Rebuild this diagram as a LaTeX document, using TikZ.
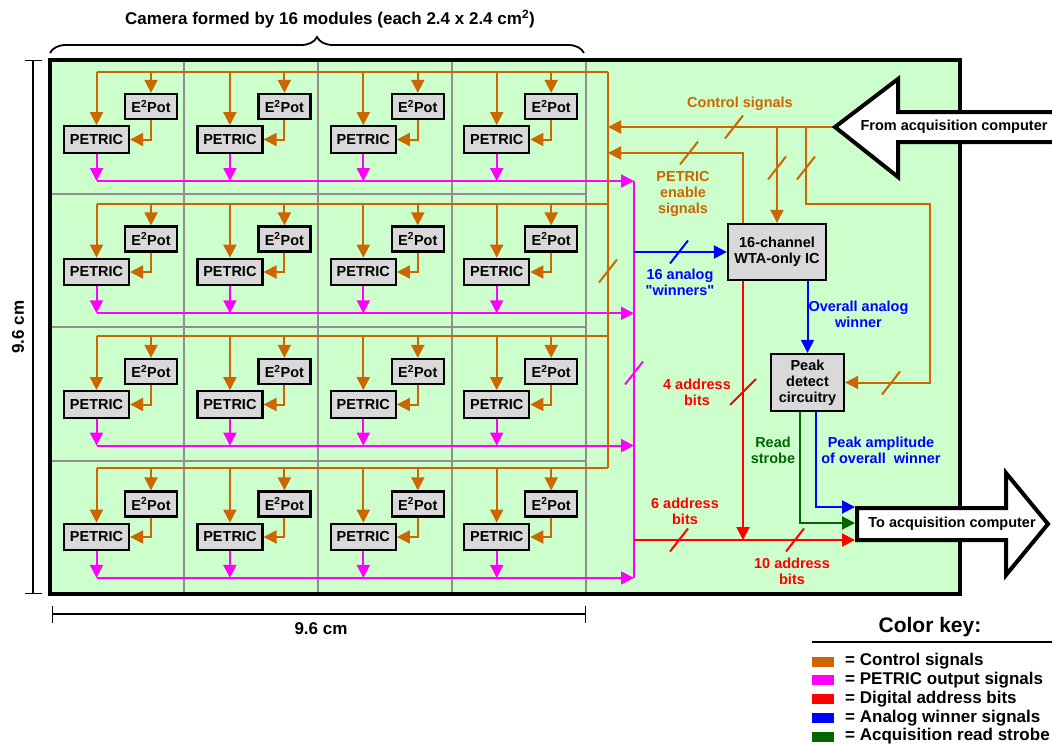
\documentclass[tikz,border=0pt]{standalone}
\usepackage{fontspec}
\setmainfont{Liberation Sans}
\usepackage{xcolor}
\usetikzlibrary{positioning,arrows.meta,calc,decorations.pathreplacing}
\definecolor{ctlc}{HTML}{CC6600}
\definecolor{outc}{HTML}{FF00FF}
\definecolor{adrc}{HTML}{FF0000}
\definecolor{anac}{HTML}{0000FF}
\definecolor{strc}{HTML}{006600}
\definecolor{camc}{HTML}{CCFFCC}
\definecolor{boxc}{HTML}{D9D9D9}
\definecolor{gridc}{HTML}{8F8F8F}

\begin{document}
\begin{tikzpicture}[x=1pt,y=-1pt,
    font=\fontsize{14.5}{16}\selectfont\bfseries,
    >={Triangle[length=13pt,width=13pt]},
    wire/.style={line width=2pt},
    ctl/.style={wire,ctlc},
    outp/.style={wire,outc},
    adr/.style={wire,adrc},
    ana/.style={wire,anac},
    strb/.style={wire,strc},
    blk/.style={draw,line width=2.2pt,fill=boxc,inner sep=0pt,align=center},
    lbl/.style={align=center},
    biglbl/.style={font=\fontsize{17}{19}\selectfont\bfseries},
    bigarrow/.style={draw,line width=4pt,fill=white,miter limit=10},
    dimline/.style={line width=1.3pt,{Bar[width=17pt]}-{Bar[width=17pt]}},
    wslash/.pic={\draw[line width=2pt] (-9,11.5) -- (9,-11.5);},
    wslashl/.pic={\draw[line width=2pt] (-13,13) -- (13,-13);}]
    \useasboundingbox (0,0) rectangle (1052,744);

    % camera board
    \coordinate (camNW) at (50,60);
    \coordinate (camSE) at (960,594);
    \fill[camc] (camNW) rectangle (camSE);
    \foreach \gx in {184,318,452,586}
        \draw[gridc,line width=2pt] (\gx,60) -- (\gx,594);
    \foreach \gy in {193.5,327,460.5}
        \draw[gridc,line width=2pt] (50,\gy) -- (586,\gy);

    \coordinate (trunk) at (608,72);
    \coordinate (trunkend) at (608,468);
    \coordinate (outv) at (634,181);
    \coordinate (outvend) at (634,578);

    % 16 modules
    \foreach \row in {0,...,3}{
        \coordinate (cbus\row) at (96.5,{72+132*\row});
        \coordinate (obus\row) at (96.5,{181+132.3*\row});
        \foreach \col in {0,...,3}{
            \node[blk,minimum width=65,minimum height=26.5] (pe\row\col)
                at ({96.5+133.4*\col},{139.5+132.5*\row}) {PETRIC};
            \node[blk,minimum width=52,minimum height=25] (ep\row\col)
                at ({151+133.4*\col},{106.5+132.5*\row}) {E\textsuperscript{2}Pot};
            \draw[ctl,->] (pe\row\col.north |- cbus\row) -- (pe\row\col.north);
            \draw[ctl,->] (ep\row\col.north |- cbus\row) -- (ep\row\col.north);
            \draw[ctl,->] (ep\row\col.south) |- (pe\row\col.east);
            \draw[outp,->] (pe\row\col.south) -- (pe\row\col.south |- obus\row);
        }
        \draw[ctl] (cbus\row) -- (cbus\row -| trunk);
        \draw[outp,->] (obus\row) -- (obus\row -| outv);
    }
    \draw[ctl] (trunk) -- (trunkend);
    \draw[outp] (outv) -- (outvend);

    % processing chain
    \node[blk,minimum width=98,minimum height=56] (wta) at (777,252) {16-channel\\WTA-only IC};
    \node[blk,minimum width=73,minimum height=57] (peak) at (807.5,382.5) {Peak\\detect\\circuitry};

    \coordinate (fromtip) at (835,127);
    \coordinate (brB) at (806,127);
    \coordinate (pkfeed) at (930,204);
    \coordinate (enab) at (743,153);
    \coordinate (adrbus) at (634,540);
    \coordinate (adrin) at (855,540);
    \coordinate (strbin) at (855,523);
    \coordinate (ampin) at (855,507);

    \draw[ctl,->] (fromtip) -- (fromtip -| trunk);
    \draw[ctl,->] (wta.north |- fromtip) -- (wta.north);
    \draw[ctl,->] (brB) |- (pkfeed) |- (peak.east);
    \draw[ctl,->] (wta.north -| enab) -- (enab) -- (enab -| trunk);
    \draw[ana,->] (outv |- wta.west) -- (wta.west);
    \draw[ana,->] (peak.north |- wta.south) -- (peak.north);
    \draw[adr,->] (wta.south -| enab) -- (enab |- adrbus);
    \draw[adr,->] (adrbus) -- (adrin);
    \draw[strb,->] ($(peak.south)+(-7.5,0)$) |- (strbin);
    \draw[ana,->] ($(peak.south)+(8.5,0)$) |- (ampin);

    \pic[color=ctlc] at (734,127) {wslash};
    \pic[color=ctlc] at (689,153) {wslash};
    \pic[color=ctlc] at (777,168) {wslash};
    \pic[color=ctlc] at (806,168) {wslash};
    \pic[color=ctlc] at (891,383) {wslash};
    \pic[color=ctlc] at (608,271) {wslash};
    \pic[color=outc] at (634,373) {wslash};
    \pic[color=anac] at (679,252) {wslash};
    \pic[color=adrc] at (743,392) {wslashl};
    \pic[color=adrc] at (679,540) {wslash};
    \pic[color=adrc] at (795,540) {wslash};

    \node[lbl,ctlc] (ctllbl) at (740,104) {Control signals};
    \node[lbl,ctlc] (enablbl) at (683,194) {PETRIC\\enable\\signals};
    \node[lbl,anac] (winlbl) at (680,282) {16 analog\\\textquotedbl winners\textquotedbl};
    \node[lbl,anac] (ovlbl) at (858.5,314) {Overall analog\\winner};
    \node[lbl,adrc] (a4lbl) at (697,392) {4 address\\bits};
    \node[lbl,strc] (rdlbl) at (773,450) {Read\\strobe};
    \node[lbl,anac] (amplbl) at (881,450) {Peak amplitude\\of overall\ \ winner};
    \node[lbl,adrc] (a6lbl) at (685,511) {6 address\\bits};
    \node[lbl,adrc] (a10lbl) at (792,571) {10 address\\bits};

    \draw[line width=4.8pt] (camNW) rectangle (camSE);

    % acquisition computer
    \draw[bigarrow] (fromtip) -- (898,79) -- (898,112) -- (1062,112) -- (1062,142)
        -- (898,142) -- (898,177) -- cycle;
    \node (fromtxt) at (954,127) {From acquisition computer};
    \draw[bigarrow] (857,508) -- (1006,508) -- (1006,473) -- (1048,524) -- (1006,575)
        -- (1006,540) -- (857,540) -- cycle;
    \node (totxt) at (952,524) {To acquisition computer};

    % dimensions
    \draw[line width=1.8pt,decorate,decoration={brace,amplitude=16pt}] (50,53) -- (584,53);
    \node[biglbl] (title) at (330,19) {Camera formed by 16 modules (each 2.4 x 2.4 cm\textsuperscript{2})};
    \coordinate (dimT) at (33,60);
    \coordinate (dimB) at (33,594);
    \draw[dimline] (dimT) -- (dimB);
    \node[biglbl,rotate=90] (vdim) at (18,327) {9.6 cm};
    \coordinate (dimL) at (52,614);
    \coordinate (dimR) at (586,614);
    \draw[dimline] (dimL) -- (dimR);
    \node[biglbl] (hdim) at (321,629) {9.6 cm};

    % colour key
    \node[font=\fontsize{21}{23}\selectfont\bfseries] (keyttl) at (930,627) {Color key:};
    \draw[line width=2pt] (812,642) -- (1052,642);
    \foreach \kc/\kt [count=\k from 0] in {ctlc/Control signals,outc/PETRIC output signals,
            adrc/Digital address bits,anac/Analog winner signals,strc/Acquisition read strobe}{
        \fill[\kc] (812,{656.5+18.75*\k}) rectangle ++(22,10);
        \node[biglbl,anchor=west,inner sep=0pt] (key\k) at (845,{661.5+18.75*\k}) {= \kt};
    }
\end{tikzpicture}
\end{document}
